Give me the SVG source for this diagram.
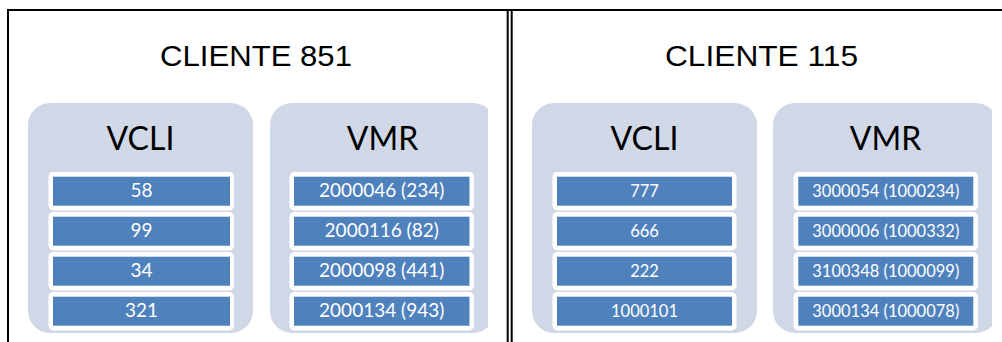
<svg xmlns="http://www.w3.org/2000/svg" width="1002" height="342" viewBox="0 0 1002 342">
  <style>
    .frame { fill: none; stroke: #000; stroke-width: 2; }
    .title { font-family: "Liberation Sans", Arial, sans-serif; font-size: 30px; fill: #000; text-anchor: middle; }
    .panel { fill: #D0D8E8; }
    .head { font-family: Lato, "Open Sans", sans-serif; font-size: 32px; fill: #000; text-anchor: middle; }
    .rim { fill: #fff; }
    .bar { fill: #4F81BD; }
    .lbl { font-family: Lato, "Open Sans", sans-serif; fill: #fff; text-anchor: middle; }
    .big { font-size: 19px; }
    .small { font-size: 16.5px; }
  </style>
  <defs>
    <clipPath id="clipL"><rect x="0" y="0" width="488" height="342"/></clipPath>
    <clipPath id="clipR"><rect x="0" y="0" width="992" height="342"/></clipPath>
  </defs>

  <!-- outer frames -->
  <g id="frames">
    <line class="frame" x1="7" y1="10" x2="1002" y2="10"/>
    <line class="frame" x1="8" y1="9" x2="8" y2="342"/>
    <line class="frame" x1="507.7" y1="9" x2="507.7" y2="342"/>
    <line class="frame" x1="511.7" y1="9" x2="511.7" y2="342"/>
  </g>

  <!-- client 851 -->
  <g id="cliente851">
    <text class="title" x="256" y="65.7" textLength="192" lengthAdjust="spacingAndGlyphs">CLIENTE 851</text>
  </g>

  <g id="vcli851">
    <rect class="panel" x="28" y="103" width="225" height="230" rx="22"/>
    <text class="head" x="140.5" y="150">VCLI</text>
    <rect class="rim" x="48.5" y="172" width="185.5" height="38.5" rx="5"/>
    <rect class="bar" x="53" y="176.7" width="177" height="29"/>
    <text class="lbl big" x="141.5" y="197.3">58</text>
    <rect class="rim" x="48.5" y="212" width="185.5" height="38.5" rx="5"/>
    <rect class="bar" x="53" y="216.7" width="177" height="29"/>
    <text class="lbl big" x="141.5" y="237.3">99</text>
    <rect class="rim" x="48.5" y="252" width="185.5" height="38.5" rx="5"/>
    <rect class="bar" x="53" y="256.7" width="177" height="29"/>
    <text class="lbl big" x="141.5" y="277.3">34</text>
    <rect class="rim" x="48.5" y="292" width="185.5" height="38.5" rx="5"/>
    <rect class="bar" x="53" y="296.7" width="177" height="29"/>
    <text class="lbl big" x="141.5" y="317.3">321</text>
  </g>

  <g id="vmr851" clip-path="url(#clipL)">
    <rect class="panel" x="270" y="103" width="225" height="230" rx="22"/>
    <text class="head" x="382.5" y="150">VMR</text>
    <rect class="rim" x="289.5" y="172" width="184.5" height="38.5" rx="5"/>
    <rect class="bar" x="294" y="176.7" width="175.5" height="29"/>
    <text class="lbl big" x="381.7" y="197.3">2000046 (234)</text>
    <rect class="rim" x="289.5" y="212" width="184.5" height="38.5" rx="5"/>
    <rect class="bar" x="294" y="216.7" width="175.5" height="29"/>
    <text class="lbl big" x="381.7" y="237.3">2000116 (82)</text>
    <rect class="rim" x="289.5" y="252" width="184.5" height="38.5" rx="5"/>
    <rect class="bar" x="294" y="256.7" width="175.5" height="29"/>
    <text class="lbl big" x="381.7" y="277.3">2000098 (441)</text>
    <rect class="rim" x="289.5" y="292" width="184.5" height="38.5" rx="5"/>
    <rect class="bar" x="294" y="296.7" width="175.5" height="29"/>
    <text class="lbl big" x="381.7" y="317.3">2000134 (943)</text>
  </g>

  <!-- client 115 -->
  <g id="cliente115">
    <text class="title" x="761.5" y="65.7" textLength="193" lengthAdjust="spacingAndGlyphs">CLIENTE 115</text>
  </g>

  <g id="vcli115">
    <rect class="panel" x="532" y="103" width="225" height="230" rx="22"/>
    <text class="head" x="644.5" y="150">VCLI</text>
    <rect class="rim" x="552.5" y="172" width="184" height="38.5" rx="5"/>
    <rect class="bar" x="557" y="176.7" width="175" height="29"/>
    <text class="lbl small" x="644.5" y="197.3">777</text>
    <rect class="rim" x="552.5" y="212" width="184" height="38.5" rx="5"/>
    <rect class="bar" x="557" y="216.7" width="175" height="29"/>
    <text class="lbl small" x="644.5" y="237.3">666</text>
    <rect class="rim" x="552.5" y="252" width="184" height="38.5" rx="5"/>
    <rect class="bar" x="557" y="256.7" width="175" height="29"/>
    <text class="lbl small" x="644.5" y="277.3">222</text>
    <rect class="rim" x="552.5" y="292" width="184" height="38.5" rx="5"/>
    <rect class="bar" x="557" y="296.7" width="175" height="29"/>
    <text class="lbl small" x="644.5" y="317.3">1000101</text>
  </g>

  <g id="vmr115" clip-path="url(#clipR)">
    <rect class="panel" x="773" y="103" width="225" height="230" rx="22"/>
    <text class="head" x="885.5" y="150">VMR</text>
    <rect class="rim" x="793.5" y="172" width="184.5" height="38.5" rx="5"/>
    <rect class="bar" x="798.3" y="176.7" width="175" height="29"/>
    <text class="lbl small" x="885.8" y="197.3">3000054 (1000234)</text>
    <rect class="rim" x="793.5" y="212" width="184.5" height="38.5" rx="5"/>
    <rect class="bar" x="798.3" y="216.7" width="175" height="29"/>
    <text class="lbl small" x="885.8" y="237.3">3000006 (1000332)</text>
    <rect class="rim" x="793.5" y="252" width="184.5" height="38.5" rx="5"/>
    <rect class="bar" x="798.3" y="256.7" width="175" height="29"/>
    <text class="lbl small" x="885.8" y="277.3">3100348 (1000099)</text>
    <rect class="rim" x="793.5" y="292" width="184.5" height="38.5" rx="5"/>
    <rect class="bar" x="798.3" y="296.7" width="175" height="29"/>
    <text class="lbl small" x="885.8" y="317.3">3000134 (1000078)</text>
  </g>
</svg>
